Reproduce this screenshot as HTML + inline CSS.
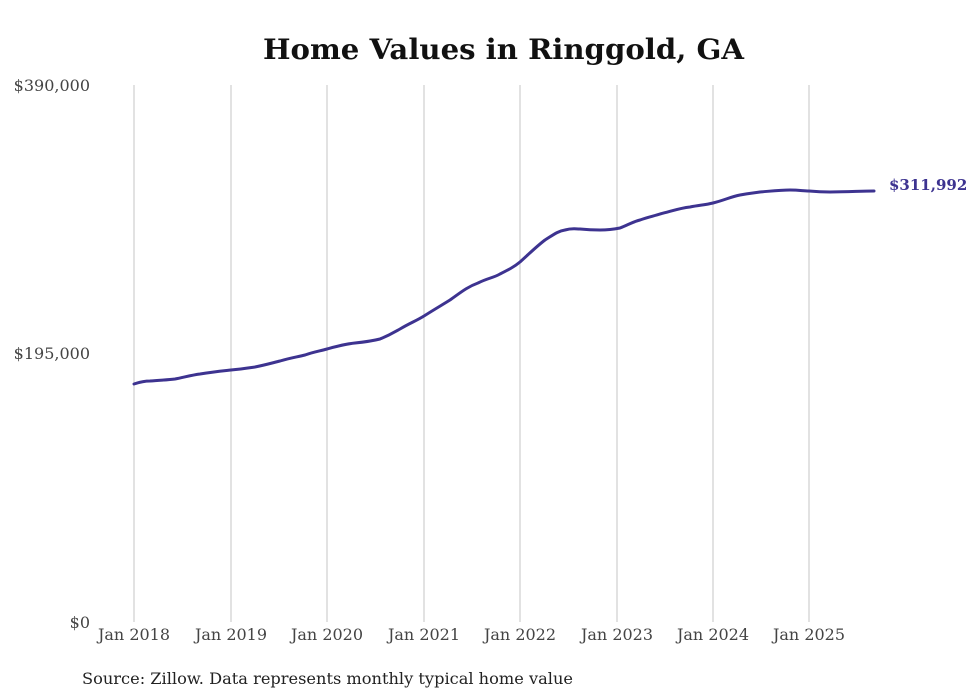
<!DOCTYPE html>
<html><head><meta charset="utf-8"><style>
html,body{margin:0;padding:0;background:#fff;}
svg{display:block;}
</style></head><body>
<svg width="980" height="699" viewBox="0 0 980 699" xmlns="http://www.w3.org/2000/svg">
<rect width="980" height="699" fill="#fff"/>
<text x="263" y="59" textLength="481" lengthAdjust="spacingAndGlyphs" font-family="'DejaVu Serif','Liberation Serif',serif" font-weight="bold" font-size="28" fill="#111">Home Values in Ringgold, GA</text>
<g stroke="#c4c4c4" stroke-width="1">
<line x1="134" y1="85" x2="134" y2="622"/>
<line x1="231" y1="85" x2="231" y2="622"/>
<line x1="327" y1="85" x2="327" y2="622"/>
<line x1="424" y1="85" x2="424" y2="622"/>
<line x1="520" y1="85" x2="520" y2="622"/>
<line x1="617" y1="85" x2="617" y2="622"/>
<line x1="713" y1="85" x2="713" y2="622"/>
<line x1="809" y1="85" x2="809" y2="622"/>
</g>
<g font-family="'DejaVu Serif','Liberation Serif',serif" font-size="16" fill="#444">
<text x="90" y="91" text-anchor="end">$390,000</text>
<text x="90" y="359" text-anchor="end">$195,000</text>
<text x="90" y="628" text-anchor="end">$0</text>
<g text-anchor="middle">
<text x="134" y="640">Jan 2018</text>
<text x="231" y="640">Jan 2019</text>
<text x="327" y="640">Jan 2020</text>
<text x="424" y="640">Jan 2021</text>
<text x="520" y="640">Jan 2022</text>
<text x="617" y="640">Jan 2023</text>
<text x="713" y="640">Jan 2024</text>
<text x="809" y="640">Jan 2025</text>
</g>
</g>
<path d="M134,384 C140,382 145,381 150,381 C160,380 168,380 175,379 C185,377 192,375 200,374 C212,372 222,371 231,370 C242,369 248,368 255,367 C265,365 272,363 280,361 C290,358 297,357 305,355 C313,352 320,351 327,349 C338,346 345,344 355,343 C365,342 372,341 380,339 C390,335 393,333 400,329 C410,323 416,321 424,316 C435,309 442,305 450,300 C460,293 467,287 478,283 C488,278 493,278 500,274 C508,270 514,267 520,262 C530,253 537,246 545,240 C553,235 558,231 565,230 C572,228 575,229 580,229 C590,230 595,230 600,230 C610,230 615,229 620,228 C628,225 632,222 640,220 C648,217 654,216 660,214 C672,211 680,208 690,207 C700,205 705,205 713,203 C725,200 730,197 740,195 C750,193 754,193 760,192 C772,191 780,190 790,190 C800,190 803,191 809,191 C820,192 825,192 830,192 C850,192 860,191 874,191" fill="none" stroke="#3d3390" stroke-width="3" stroke-linecap="round" stroke-linejoin="round"/>
<text x="889" y="190" font-family="'DejaVu Serif','Liberation Serif',serif" font-weight="bold" font-size="15" fill="#3d3390">$311,992</text>
<text x="82" y="684" textLength="491" lengthAdjust="spacingAndGlyphs" font-family="'DejaVu Serif','Liberation Serif',serif" font-size="16" fill="#222">Source: Zillow. Data represents monthly typical home value</text>
</svg>
</body></html>
